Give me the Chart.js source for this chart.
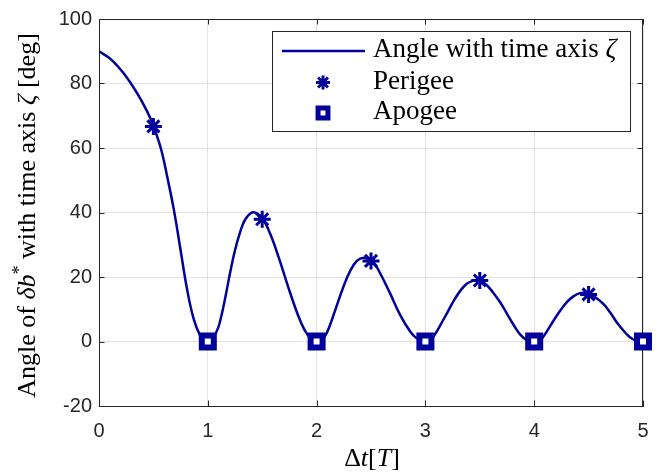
<!DOCTYPE html>
<html>
<head>
<meta charset="utf-8">
<script src="https://cdn.jsdelivr.net/npm/chart.js@4/dist/chart.umd.min.js"></script>
<style>
  html, body { margin: 0; padding: 0; background: #fff; }
  #wrap { width: 663px; height: 474px; }
</style>
</head>
<body>
<div id="wrap"><canvas id="chart" width="663" height="474"></canvas></div>
<script>
// --- Data ---
const tValues = [0, 0.11, 0.23, 0.35, 0.44, 0.5, 0.57, 0.63, 0.69, 0.75, 0.81, 0.87, 0.93, 0.97, 1.0,
  1.04, 1.08, 1.11, 1.16, 1.2, 1.25, 1.3, 1.34, 1.4, 1.45, 1.51, 1.59, 1.66, 1.74, 1.82, 1.89, 1.95, 2.0,
  2.04, 2.08, 2.12, 2.18, 2.25, 2.31, 2.37, 2.43, 2.51, 2.58, 2.67, 2.77, 2.86, 2.92, 3.0,
  3.04, 3.07, 3.13, 3.2, 3.26, 3.32, 3.38, 3.44, 3.47, 3.5, 3.56, 3.62, 3.69, 3.75, 3.81, 3.87, 3.93, 4.0,
  4.04, 4.07, 4.11, 4.18, 4.24, 4.3, 4.36, 4.42, 4.46, 4.5, 4.57, 4.64, 4.7, 4.76, 4.82, 4.88, 4.94, 5.0];
const angleValues = [90, 87.5, 83.0, 77, 71.5, 66.8, 59.7, 50.6, 40.5, 28.3, 16.1, 7, 1.8, 0.3, 0,
  0.8, 3, 5.9, 13.5, 20.5, 28.3, 34.2, 37.6, 39.9, 39.7, 37.9, 32, 25.2, 16.8, 9, 3.5, 0.8, 0,
  0.4, 1.8, 4.8, 10.6, 17.3, 22, 25, 26, 25, 21.4, 15.3, 8.1, 3.1, 1, 0,
  0.3, 1.3, 4.6, 8.9, 12.6, 15.7, 17.9, 18.9, 19, 18.9, 17.6, 15.3, 12, 8.6, 5.2, 2.2, 0.5, 0,
  0.3, 0.9, 2.8, 6.6, 9.6, 12.2, 14, 15, 15.1, 14.8, 13.5, 11.5, 8.9, 5.9, 3.4, 1.3, 0.2, 0];
const perigeeT = [0.5, 1.5, 2.5, 3.5, 4.5];
const perigeeAngle = [66.7, 37.9, 25, 18.9, 14.6];
const apogeeT = [1, 2, 3, 4, 5];
const apogeeAngle = [0, 0, 0, 0, 0];
const xTicks = [0, 1, 2, 3, 4, 5];
const yTicks = [-20, 0, 20, 40, 60, 80, 100];
const seriesNames = ['Angle with time axis ', 'Perigee', 'Apogee'];

// --- Style ---
const blue = '#00009a';
const axisColor = '#262626';
const gridColor = '#e3e3e3';
const serif = '"Liberation Serif", "Times New Roman", serif';
const sans = '"Liberation Sans", Arial, sans-serif';

const toPoints = (xs, ys) => xs.map((x, i) => ({ x, y: ys[i] }));

// draw a run of text pieces, some italic, some raised
const drawRich = (ctx, parts, x, y, size) => {
  const fontOf = p => `${p.italic ? 'italic ' : ''}${p.sup ? size * 0.7 : size}px ${serif}`;
  let total = 0;
  parts.forEach(p => { ctx.font = fontOf(p); total += ctx.measureText(p.text).width; });
  let cx = x - total / 2;
  parts.forEach(p => {
    ctx.font = fontOf(p);
    ctx.fillText(p.text, cx, p.sup ? y - size * 0.38 : y);
    cx += ctx.measureText(p.text).width;
  });
};

// frame, inward ticks, titles and legend
const framePlugin = {
  id: 'frame',
  beforeDatasetsDraw(chart) {
    const { ctx, chartArea: a, scales } = chart;
    ctx.save();
    ctx.strokeStyle = axisColor;
    ctx.lineWidth = 1;
    ctx.strokeRect(a.left + 0.5, a.top + 0.5, a.right - a.left - 1, a.bottom - a.top);
    const tl = 5.5;
    ctx.beginPath();
    xTicks.forEach(v => {
      const px = Math.round(scales.x.getPixelForValue(v)) + 0.5;
      ctx.moveTo(px, a.bottom); ctx.lineTo(px, a.bottom - tl);
      ctx.moveTo(px, a.top); ctx.lineTo(px, a.top + tl);
    });
    yTicks.forEach(v => {
      const py = Math.round(scales.y.getPixelForValue(v)) + 0.5;
      ctx.moveTo(a.left, py); ctx.lineTo(a.left + tl, py);
      ctx.moveTo(a.right, py); ctx.lineTo(a.right - tl, py);
    });
    ctx.stroke();
    ctx.restore();
  },
  afterDraw(chart) {
    const { ctx, chartArea: a } = chart;
    ctx.save();
    ctx.fillStyle = '#000';
    ctx.textAlign = 'left';
    ctx.textBaseline = 'alphabetic';
    // x title
    drawRich(ctx, [
      { text: 'Δ' }, { text: 't', italic: true }, { text: '[' },
      { text: 'T', italic: true }, { text: ']' }
    ], (a.left + a.right) / 2 + 1, 466, 26);
    // y title
    ctx.save();
    ctx.translate(35, (a.top + a.bottom) / 2 + 3);
    ctx.rotate(-Math.PI / 2);
    drawRich(ctx, [
      { text: 'Angle of ' }, { text: 'δb', italic: true }, { text: '*', sup: true },
      { text: ' with time axis ' }, { text: 'ζ', italic: true }, { text: ' [deg]' }
    ], 0, 0, 26);
    ctx.restore();

    // legend
    const box = { left: 272.5, top: 31.5, right: 630.5, bottom: 131.5 };
    ctx.fillStyle = '#fff';
    ctx.fillRect(box.left, box.top, box.right - box.left, box.bottom - box.top);
    ctx.strokeStyle = axisColor;
    ctx.lineWidth = 1;
    ctx.strokeRect(box.left, box.top, box.right - box.left, box.bottom - box.top);

    const rows = [51, 82.5, 113];
    ctx.strokeStyle = blue;
    ctx.lineWidth = 2.5;
    ctx.beginPath();
    ctx.moveTo(282, rows[0]); ctx.lineTo(365, rows[0]);
    ctx.stroke();

    ctx.fillStyle = blue;
    ctx.lineWidth = 3;
    Chart.helpers.drawPoint(ctx, { pointStyle: 'star', radius: 7, borderWidth: 3, rotation: 0 }, 323, rows[1]);
    ctx.fillStyle = '#fff';
    ctx.lineWidth = 5;
    Chart.helpers.drawPoint(ctx, { pointStyle: 'rect', radius: 7, borderWidth: 5, rotation: 0 }, 323, rows[2]);

    ctx.fillStyle = '#000';
    ctx.textAlign = 'left';
    const tx = 373;
    const fs = 27;
    ctx.font = `${fs}px ${serif}`;
    ctx.fillText(seriesNames[0], tx, rows[0] + 6);
    const w = ctx.measureText(seriesNames[0]).width;
    ctx.font = `italic ${fs}px ${serif}`;
    ctx.fillText('ζ', tx + w, rows[0] + 6);
    ctx.font = `${fs}px ${serif}`;
    ctx.fillText(seriesNames[1], tx, rows[1] + 6);
    ctx.fillText(seriesNames[2], tx, rows[2] + 6);
    ctx.restore();
  }
};

const ctx = document.getElementById('chart').getContext('2d');
new Chart(ctx, {
  type: 'line',
  data: {
    datasets: [
      {
        label: 'Angle with time axis ζ',
        data: toPoints(tValues, angleValues),
        borderColor: blue,
        borderWidth: 2.5,
        pointRadius: 0,
        tension: 0.4,
        fill: false,
        order: 3
      },
      {
        label: 'Perigee',
        data: toPoints(perigeeT, perigeeAngle),
        showLine: false,
        pointStyle: 'star',
        pointRadius: 8.5,
        pointBorderWidth: 3,
        borderColor: blue,
        backgroundColor: blue,
        clip: false,
        order: 2
      },
      {
        label: 'Apogee',
        data: toPoints(apogeeT, apogeeAngle),
        showLine: false,
        pointStyle: 'rect',
        pointRadius: 8.5,
        pointBorderWidth: 6,
        borderColor: blue,
        backgroundColor: '#fff',
        clip: false,
        order: 1
      }
    ]
  },
  options: {
    responsive: false,
    animation: false,
    devicePixelRatio: 1,
    layout: { padding: { top: 13, right: 20, left: 0, bottom: 0 } },
    plugins: { legend: { display: false }, tooltip: { enabled: false } },
    scales: {
      x: {
        type: 'linear',
        min: 0,
        max: 5,
        afterBuildTicks: s => { s.ticks = xTicks.map(v => ({ value: v })); },
        afterFit: s => { s.height = 68; },
        ticks: { color: axisColor, font: { family: sans, size: 20 }, padding: 13, maxRotation: 0 },
        grid: { color: gridColor, drawTicks: false },
        border: { color: axisColor }
      },
      y: {
        min: -20,
        max: 100,
        afterBuildTicks: s => { s.ticks = yTicks.map(v => ({ value: v })); },
        afterFit: s => { s.width = 99; },
        ticks: { color: axisColor, font: { family: sans, size: 20 }, padding: 7 },
        grid: { color: gridColor, drawTicks: false },
        border: { color: axisColor }
      }
    }
  },
  plugins: [framePlugin]
});
</script>
</body>
</html>
